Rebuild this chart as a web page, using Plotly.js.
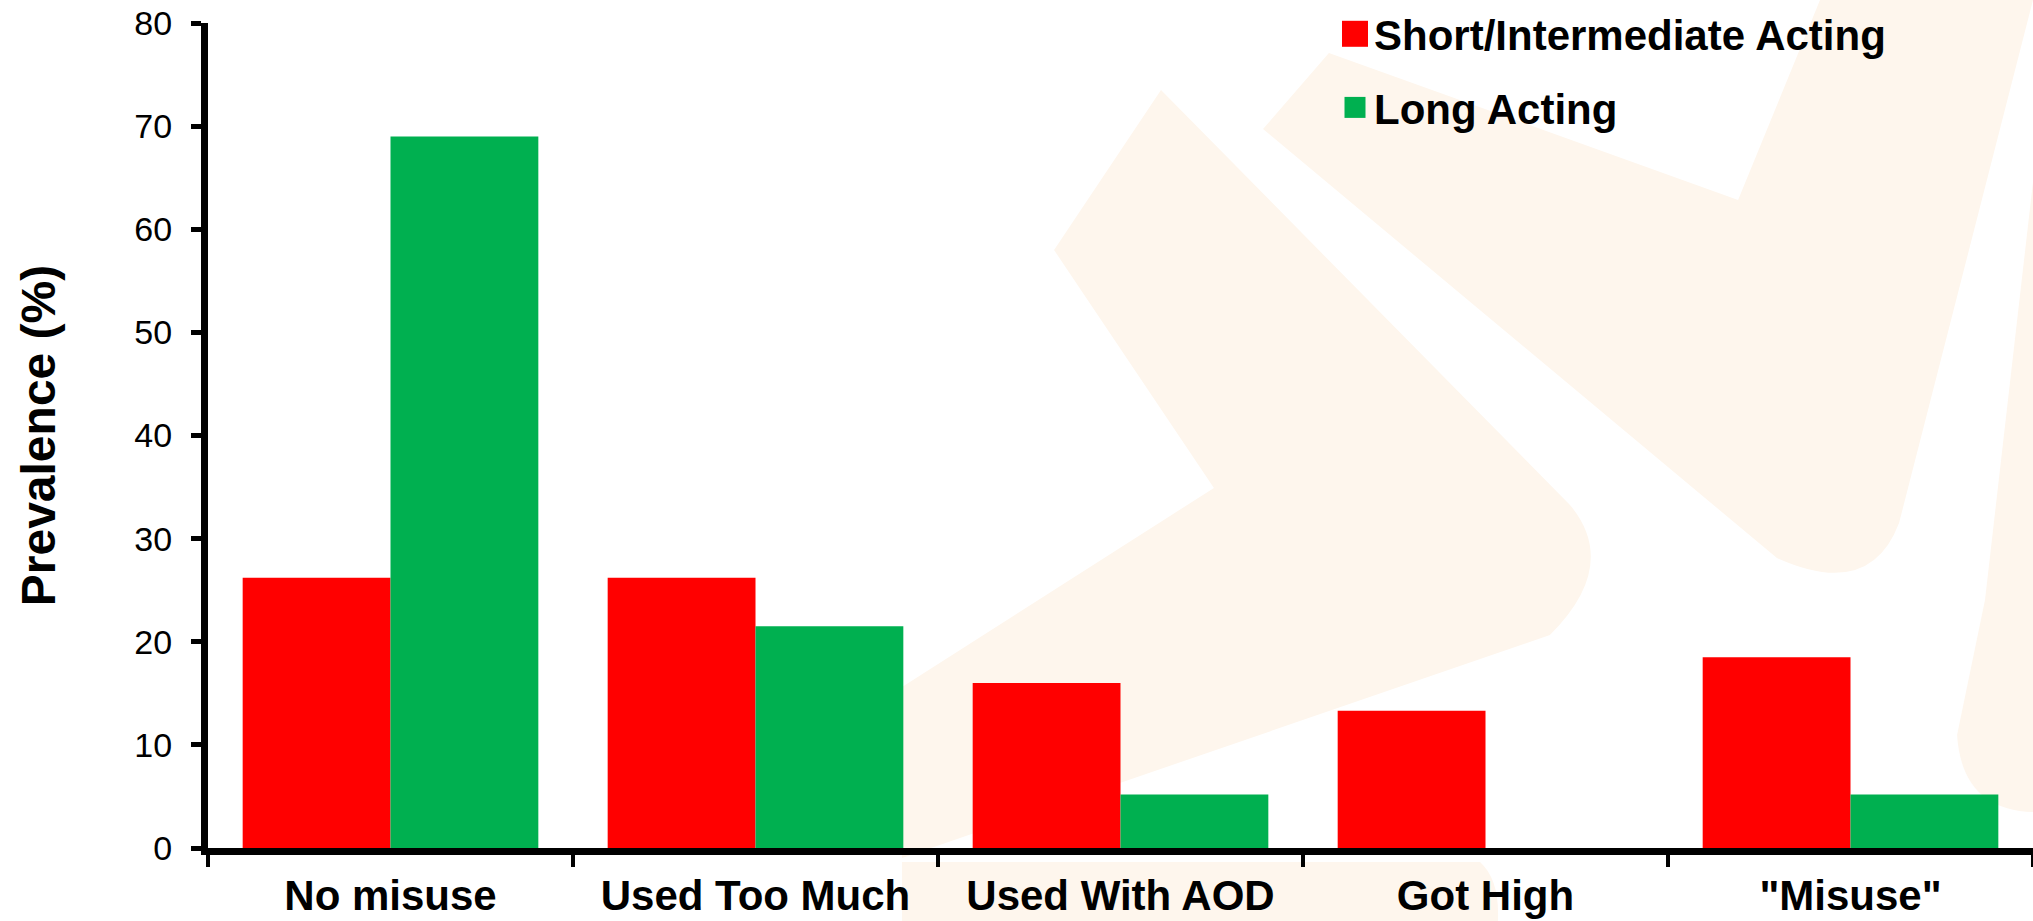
<!DOCTYPE html>
<html>
<head>
<meta charset="utf-8">
<script src="https://cdn.plot.ly/plotly-3.0.1.min.js"></script>
<style>
  html, body { margin: 0; padding: 0; background: #fff; }
  #chart { width: 2033px; height: 921px; }
</style>
</head>
<body>
<div id="chart"></div>
<script>
// categories and values
const categorias = ["No misuse", "Used Too Much", "Used With AOD", "Got High", "\"Misuse\""];
const cortaIntermedia = [26.2, 26.2, 16.0, 13.3, 18.5];
const larga = [69.0, 21.5, 5.2, 0, 5.2];
const nombres = ["Short/Intermediate Acting", "Long Acting"];
const yTicks = [0, 10, 20, 30, 40, 50, 60, 70, 80];

const W = 2033, H = 921;
const M = { l: 208, r: 0, t: 23, b: 73 };
const pw = W - M.l - M.r, ph = H - M.t - M.b;
const fuente = "Liberation Sans, Arial, sans-serif";
const durazno = "#FEF6ED";

// pixel -> paper, for the faint watermark behind the chart
function pp(x, y) {
    return ((x - M.l) / pw).toFixed(4) + "," + ((H - M.b - y) / ph).toFixed(4);
}
function camino(cmds) {
    return cmds.map(c => c[0] + c.slice(1).map(p => pp(p[0], p[1])).join(" ")).join(" ") + " Z";
}

const marcaAgua = [
    camino([["M", [1161, 90]], ["L", [1570, 505]], ["Q", [1620, 565], [1550, 635]],
            ["L", [902, 858]], ["L", [902, 687]], ["L", [1214, 488]], ["L", [1054, 250]]]),
    camino([["M", [902, 862]], ["L", [1480, 862]], ["Q", [1500, 880], [1498, 921]], ["L", [902, 921]]]),
    camino([["M", [1263, 129]], ["L", [1329, 53]], ["L", [1738, 200]], ["L", [1820, 0]],
            ["L", [2033, 0]], ["L", [1899, 523]], ["Q", [1870, 600], [1777, 558]]]),
    camino([["M", [2033, 182]], ["L", [1985, 600]], ["L", [1957, 735]],
            ["Q", [1962, 810], [2033, 812]]])
].map(p => ({
    type: "path", xref: "paper", yref: "paper", path: p,
    fillcolor: durazno, line: { width: 0 }, layer: "below"
}));

const trazas = [
    { x: categorias, y: cortaIntermedia, type: "bar", name: nombres[0],
      marker: { color: "#FF0000", line: { width: 0 } }, legendgroup: "a" },
    { x: categorias, y: larga, type: "bar", name: nombres[1],
      marker: { color: "#00B050", line: { width: 0 } }, legendgroup: "b" }
];

const layout = {
    width: W, height: H,
    margin: M,
    paper_bgcolor: "#ffffff",
    plot_bgcolor: "rgba(0,0,0,0)",
    barmode: "group",
    bargap: 0.19,
    bargroupgap: 0,
    font: { family: fuente, color: "#000" },
    shapes: marcaAgua,
    showlegend: true,
    legend: {
        x: (1334 - M.l) / pw, xanchor: "left",
        y: 1 + 23 / ph, yanchor: "top",
        bgcolor: "rgba(0,0,0,0)",
        font: { family: fuente, size: 42, weight: "bold", color: "#000" },
        traceorder: "grouped",
        tracegroupgap: 16
    },
    xaxis: {
        type: "category",
        showline: true, linecolor: "#000", linewidth: 7,
        ticks: "outside", tickson: "boundaries", ticklen: 12, tickwidth: 4, tickcolor: "#000",
        tickfont: { family: fuente, size: 42, weight: "bold", color: "#000" },
        ticklabelstandoff: 5,
        showgrid: false, zeroline: false, fixedrange: true
    },
    yaxis: {
        range: [0, 80],
        tickvals: yTicks,
        showline: true, linecolor: "#000", linewidth: 7,
        ticks: "outside", ticklen: 10, tickwidth: 5, tickcolor: "#000",
        tickfont: { family: fuente, size: 34, color: "#000" },
        ticklabelstandoff: 12,
        showgrid: false, zeroline: false, fixedrange: true,
        title: { text: "Prevalence (%)", standoff: 66,
                 font: { family: fuente, size: 48, weight: "bold", color: "#000" } }
    }
};

Plotly.newPlot("chart", trazas, layout, { displayModeBar: false, staticPlot: true }).then(gd => {
    // bigger legend squares, as in the picture (half side, shift toward the text)
    const lados = [13, 10.5];
    const dx = 21;
    gd.querySelectorAll(".legend .traces").forEach((t, i) => {
        t.querySelectorAll(".legendpoints path").forEach(p => {
            const s = lados[i];
            p.removeAttribute("transform");
            p.setAttribute("d", "M" + (dx + s) + "," + s + "H" + (dx - s) + "V" + (-s) + "H" + (dx + s) + "Z");
        });
    });
});
</script>
</body>
</html>
